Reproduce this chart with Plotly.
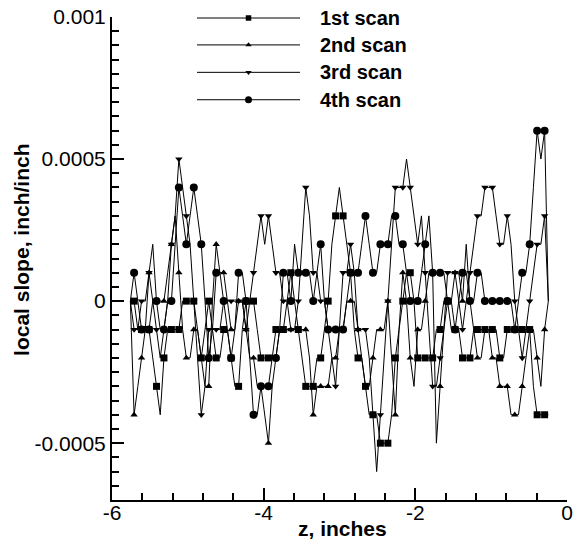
import plotly.graph_objects as go

# Sampling grid along the scan (mm), converted to inches for the axis
FIRST_SAMPLE_MM = -146.25
SAMPLE_STEP_MM = 1.25
N_SAMPLES = 113
z_inches = [(FIRST_SAMPLE_MM + SAMPLE_STEP_MM * k) / 25.4 for k in range(N_SAMPLES)]

# Local slope of each scan, in units of 1e-4 inch/inch
scan1 = [0, 0, -1, -1, -1, -1, -2, -3, -4, -2, -1, -1, -1, -1, 0, 0, 0, 0, -1, -2,
         -1, 0, -1, -2, -2, -1, -1, -2, -3, -3, -1, 0, 0, 0, -1, -2, -2, -2, -2, -1,
         -1, -1, 0, 1, 0, -1, -2, -3, -3, -3, -2, -2, -1, 0, 2, 3, 4, 3, 2, 1,
         -1, -2, -2, -3, -4, -4, -4, -5, -5, -5, -4, -2, -1, 0, 1, 1, 0, -2, -2, -2,
         -2, -2, -1, -1, 0, 0, -1, -1, -1, -2, -2, -2, -1, -1, -1, -1, -1, -1, -1, -2,
         -2, -1, -1, -1, -1, -1, -1, -1, -3, -4, -4, -4, -4]
scan2 = [0, -4, -3, -2, -1, 1, 2, 0, 0, 0, 1, 2, 3, 1, -1, -2, -2, -1, -1, -2,
         -3, -3, 0, 2, 1, 1, 0, -1, -1, 0, 0, -1, -2, -2, -3, -3, -4, -5, -3, -2,
         -1, -1, -1, -1, -1, -1, -1, -1, -2, -4, -3, -3, -3, -3, -2, -2, -1, -1, 0, 0,
         0, -1, -2, -3, -3, -2, -1, -1, -1, 0, -2, -4, -1, 1, 0, -2, -3, -1, -1, 0,
         1, 1, -5, -3, -1, 0, 0, 1, 1, 0, 2, 0, -1, -2, -2, -1, -1, -2, -2, -3,
         -3, -3, -4, -4, -4, -3, -2, -1, -1, -2, -3, -1, 0]
scan3 = [0, -1, -1, 0, 0, 1, 0, -1, -2, -1, 0, 2, 3, 5, 4, 3, 2, 0, -2, -4,
         -3, -1, -1, -1, -1, 0, 0, 0, 0, 0, 0, -1, 0, 1, 2, 3, 2, 3, 2, 1,
         1, 0, 0, -1, -1, 0, 2, 4, 3, 1, 1, 0, 0, -1, -2, -3, -1, 1, 1, 2,
         1, -1, -1, -1, -2, -4, -6, -4, -2, 0, 2, 4, 4, 4, 5, 4, 3, 2, 3, 1,
         -1, -3, -3, -2, -1, 1, 1, 1, 0, -1, 0, 1, 2, 3, 3, 4, 4, 4, 3, 2,
         2, 3, 2, 0, -1, -2, -1, 0, 1, 2, 2, 3, 0]
scan4 = [0, 1, 0, -1, -1, -1, 0, 0, -1, -1, 0, 0, 2, 4, 3, 2, 3, 4, 3, 2,
         0, -2, -1, 1, 1, 0, -1, -2, -1, 1, 1, 0, -2, -4, -4, -3, -3, -3, -2, -2,
         -1, 1, 1, 0, 2, 1, 1, 1, 1, 0, 1, 2, 0, -1, -1, -1, -1, -1, 0, 1,
         1, 1, 2, 3, 2, 1, 1, 2, 2, 2, 3, 3, 2, 2, 1, 0, 0, 0, 1, 2,
         3, 1, 1, 1, 1, 0, 0, -1, 0, 1, 1, 0, 0, 1, 1, 0, 0, 0, 0, 0,
         0, 0, 0, -1, 0, 1, 1, 2, 4, 6, 5, 6, 0]

series_names = ["1st scan", "2nd scan", "3rd scan", "4th scan"]
series_values = [scan1, scan2, scan3, scan4]
series_symbols = ["square", "triangle-up", "triangle-down", "circle"]
series_sizes = [7, 6.5, 6.5, 8]

FONT = "Liberation Sans, Arial, Helvetica, sans-serif"

fig = go.Figure()

for name, vals, sym, size in zip(series_names, series_values, series_symbols, series_sizes):
    slope = [v * 1e-4 for v in vals]
    # polyline through every sample
    fig.add_trace(go.Scatter(
        x=z_inches, y=slope, mode="lines", name=name,
        line=dict(color="black", width=1), showlegend=False, hoverinfo="skip"))
    # symbols on every other sample
    fig.add_trace(go.Scatter(
        x=z_inches[1::2], y=slope[1::2], mode="markers", name=name,
        marker=dict(symbol=sym, size=size, color="black", line=dict(width=0)),
        showlegend=False))

# Legend drawn in pixel coordinates on an overlay axis pair
legend_rows = [17, 44, 71.5, 99]
legend_sizes = [5.5, 5.5, 5.5, 7]
for name, sym, row, msize in zip(series_names, series_symbols, legend_rows, legend_sizes):
    fig.add_trace(go.Scatter(
        x=[197, 300], y=[row, row], mode="lines", xaxis="x2", yaxis="y2",
        line=dict(color="black", width=1), showlegend=False, hoverinfo="skip",
        cliponaxis=False))
    fig.add_trace(go.Scatter(
        x=[248.5], y=[row], mode="markers", xaxis="x2", yaxis="y2",
        marker=dict(symbol=sym, size=msize, color="black"), showlegend=False,
        hoverinfo="skip", cliponaxis=False))
    fig.add_annotation(
        x=318, y=row, xref="x2", yref="y2", text="<b>%s</b>" % name,
        showarrow=False, xanchor="left", yanchor="middle",
        font=dict(family=FONT, size=20, color="black"))

# Axis titles
fig.add_annotation(
    x=-0.198, y=0.5176, xref="paper", yref="paper", textangle=-90,
    text="<b>local slope, inch/inch</b>", showarrow=False,
    xanchor="center", yanchor="middle",
    font=dict(family=FONT, size=21, color="black"))
fig.add_annotation(
    x=0.5055, y=-0.0875, xref="paper", yref="paper",
    text="<b>z, inches</b>", showarrow=False,
    xanchor="center", yanchor="bottom",
    font=dict(family=FONT, size=21, color="black"))

axis_common = dict(
    showline=True, linewidth=2, linecolor="black", mirror=False, automargin=False,
    showgrid=False, zeroline=False, ticks="inside", ticklen=12, tickwidth=2,
    tickcolor="black", tickfont=dict(family=FONT, size=21, color="black"),
)

fig.update_layout(
    width=577, height=543,
    margin=dict(l=112, r=10, t=17, b=43),
    paper_bgcolor="white", plot_bgcolor="white",
    showlegend=False,
    xaxis=dict(
        range=[-6, 0], tickmode="array", tickvals=[-6, -4, -2, 0],
        ticktext=["-6", "-4", "-2", "0"], ticklabelstandoff=-7,
        minor=dict(dtick=0.4, tick0=-6, ticks="inside", ticklen=7, tickwidth=1.5,
                   tickcolor="black", showgrid=False),
        **axis_common),
    yaxis=dict(
        range=[-0.0007, 0.001], tickmode="array",
        tickvals=[-0.0005, 0, 0.0005, 0.001],
        ticktext=["-0.0005", "0", "0.0005", "0.001"],
        minor=dict(dtick=0.00005, tick0=0, ticks="inside", ticklen=7, tickwidth=1.5,
                   tickcolor="black", showgrid=False),
        **axis_common),
    xaxis2=dict(domain=[0, 1], range=[112, 567], visible=False, overlaying="x",
                anchor="y2", fixedrange=True),
    yaxis2=dict(domain=[0, 1], range=[500.5, 16], visible=False, overlaying="y",
                anchor="x2", fixedrange=True),
)

fig.write_html("out.html")
